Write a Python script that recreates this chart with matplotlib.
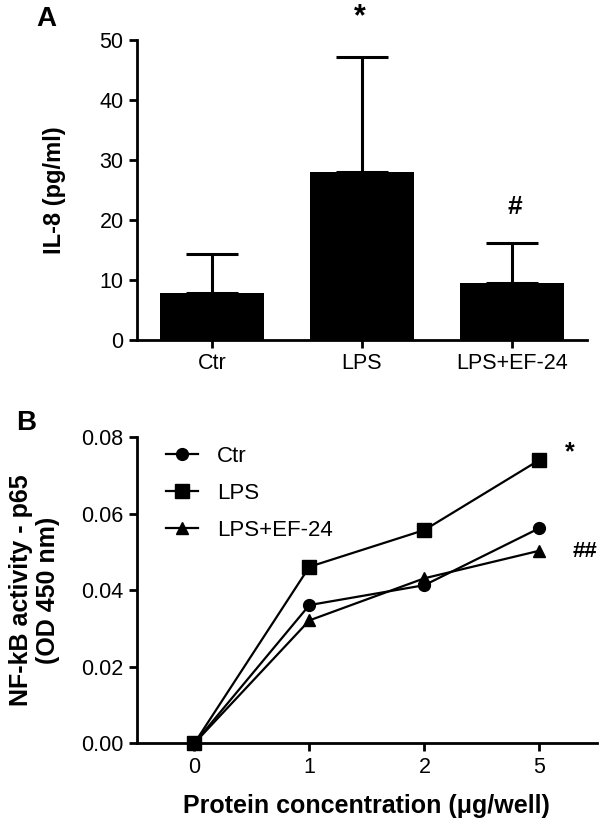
import matplotlib
matplotlib.use('Agg')
import matplotlib.pyplot as plt

plt.rcParams['font.family'] = ['Liberation Sans', 'DejaVu Sans']

# Panel A: IL-8 release
groups = ['Ctr', 'LPS', 'LPS+EF-24']
il8_mean = [7.9, 28.0, 9.5]
il8_err = [6.4, 19.1, 6.6]

# Panel B: NF-kB activity
conc_labels = ['0', '1', '2', '5']
nfkb_ctr = [0.0, 0.0361, 0.0413, 0.0562]
nfkb_lps = [0.0, 0.0461, 0.0557, 0.0740]
nfkb_ef24 = [0.0, 0.0321, 0.0431, 0.0503]

fig = plt.figure(figsize=(6, 8.18), dpi=100)

# ---- A ----
axA = fig.add_axes([0.228, 0.5844, 0.75, 0.3667])
xa = range(len(groups))
axA.bar(xa, il8_mean, width=0.69, color='black')
axA.errorbar(xa, il8_mean, yerr=[[0] * 3, il8_err], fmt='none', ecolor='black',
             elinewidth=2.2, capsize=19, capthick=2.2)
axA.set_xlim(-0.5, 2.5)
axA.set_ylim(0, 50)
axA.set_yticks([0, 10, 20, 30, 40, 50])
axA.set_xticks(list(xa))
axA.set_xticklabels(groups, fontsize=16)
axA.set_ylabel('IL-8 (pg/ml)', fontsize=17, fontweight='bold', labelpad=24)

# ---- B ----
axB = fig.add_axes([0.228, 0.0913, 0.767, 0.3745])
xb = range(len(conc_labels))
kw = dict(color='black', lw=1.6, clip_on=False, zorder=3)
axB.plot(xb, nfkb_ctr, marker='o', ms=8.5, label='Ctr', **kw)
axB.plot(xb, nfkb_lps, marker='s', ms=9.5, label='LPS', **kw)
axB.plot(xb, nfkb_ef24, marker='^', ms=9, label='LPS+EF-24', **kw)
axB.set_xlim(-0.5, 3.5)
axB.set_ylim(0, 0.08)
axB.set_yticks([0, 0.02, 0.04, 0.06, 0.08])
axB.set_yticklabels(['0.00', '0.02', '0.04', '0.06', '0.08'])
axB.set_xticks(list(xb))
axB.set_xticklabels(conc_labels)
axB.set_xlabel('Protein concentration (\u03bcg/well)', fontsize=18, fontweight='bold', labelpad=12)
axB.set_ylabel('NF-kB activity - p65\n(OD 450 nm)', fontsize=18, fontweight='bold', labelpad=15)
axB.legend(loc='upper left', bbox_to_anchor=(0.064, 0.97), frameon=False, fontsize=16,
           handlelength=1.45, handletextpad=0.85, labelspacing=0.72,
           borderpad=0, borderaxespad=0)

for ax in (axA, axB):
    ax.spines['top'].set_visible(False)
    ax.spines['right'].set_visible(False)
    ax.spines['left'].set_linewidth(2)
    ax.spines['bottom'].set_linewidth(2)
    ax.tick_params(width=2, length=6, labelsize=15.5)

# significance marks and panel letters
fig.text(0.60, 0.979, '*', fontsize=22, fontweight='bold', ha='center', va='center')
fig.text(0.858, 0.747, '#', fontsize=19, fontweight='bold', ha='center', va='center')
fig.text(0.95, 0.447, '*', fontsize=18, fontweight='bold', ha='center', va='center')
fig.text(0.975, 0.326, '##', fontsize=16, fontweight='bold', ha='center', va='center')
fig.text(0.077, 0.977, 'A', fontsize=20, fontweight='bold', ha='center', va='center')
fig.text(0.043, 0.483, 'B', fontsize=20, fontweight='bold', ha='center', va='center')

plt.savefig('out.png', dpi=100)
